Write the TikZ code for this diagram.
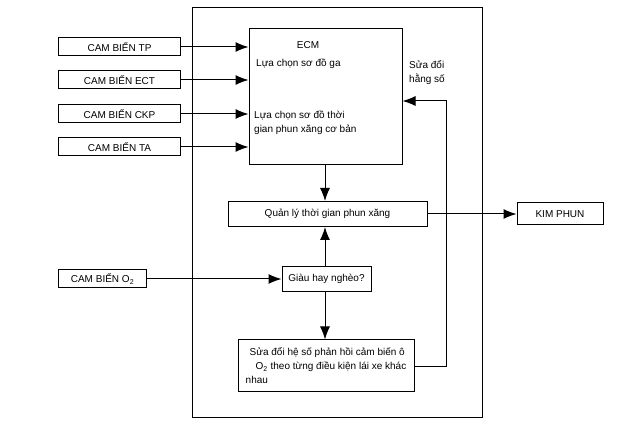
\documentclass[tikz,border=0pt]{standalone}
\usepackage{fontspec}
\setmainfont{Liberation Sans}
\usetikzlibrary{positioning}
\usetikzlibrary{calc}
\usetikzlibrary{arrows.meta}
\tikzset{
	x=1pt, y=-1pt,
	every node/.style={font=\fontsize{10}{14}\selectfont, inner sep=1pt},
	box/.style={draw, line width=1pt, minimum height=18pt},
	sensor/.style={box, minimum width=122pt, anchor=west},
	arr/.style={line width=1pt, -{Latex[length=13pt,width=10pt]}}
}

\begin{document}
\begin{tikzpicture}
	\useasboundingbox (0,0) rectangle (624,427);
	\draw[line width=1pt] (192,8) rectangle (482,418);
	% ECM
	\node (ecm) [box, minimum width=153pt, minimum height=136pt] at (325.5,97) {};
	\node (ecmt) at (308,45) {ECM};
	\node (ga) [anchor=west] at (255,64) {Lựa chọn sơ đồ ga};
	\node (tg) [anchor=west, align=left] at (253,123) {Lựa chọn sơ đồ thời\\gian phun xăng cơ bản};
	\node (hs) [anchor=west, align=left] at (408,73) {Sửa đổi\\hằng số};
	% sensors
	\node (tp) [sensor] at (58,47) {CAM BIẾN TP};
	\node (ect) [sensor] at (58,80) {CAM BIẾN ECT};
	\node (ckp) [sensor] at (58,114) {CAM BIẾN CKP};
	\node (ta) [sensor] at (58,147) {CAM BIẾN TA};
	\node (o2) [box, minimum width=88pt, anchor=west] at (58,279) {CAM BIẾN O\textsubscript{2}};
	% inner blocks
	\node (ql) [box, minimum width=199pt, minimum height=25pt] at (327.5,214) {Quản lý thời gian phun xăng};
	\node (kp) [box, minimum width=86pt, minimum height=22pt] at (560,214) {KIM PHUN};
	\node (gh) [box, minimum width=89pt, minimum height=25pt] at (326.5,279) {Giàu hay nghèo?};
	\node (sd) [box, minimum width=176pt, minimum height=52pt, align=left] at (326,366) {\hspace*{4pt}Sửa đổi hệ số phản hồi cảm biến ô\\\hspace*{10pt}O\textsubscript{2} theo từng điều kiện lái xe khác\\nhau};
	\coordinate (c1) at (446,367);
	\coordinate (c2) at (446,101);

	\foreach \s in {tp,ect,ckp,ta}
		\draw[arr] (\s) -- (\s -| ecm.west);
	\draw[arr] (ecm.south -| 325,0) -- (ql.north -| 325,0);
	\draw[arr] (gh.north -| 325,0) -- (ql.south -| 325,0);
	\draw[arr] (gh.south -| 325,0) -- (sd.north -| 325,0);
	\draw[arr] (o2) -- (gh);
	\draw[arr] (ql) -- (kp);
	\draw[arr] (sd.east |- c1) -- (c1) -- (c2) -- (c2 -| ecm.east);
\end{tikzpicture}
\end{document}
